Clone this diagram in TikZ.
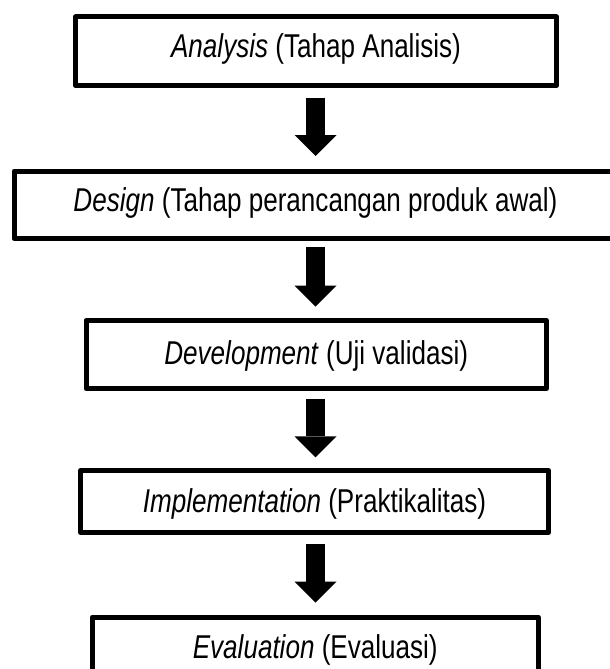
\documentclass[tikz,border=0pt]{standalone}
\usepackage{fontspec}
\newfontfamily\boxfont{Liberation Sans}[FakeStretch=0.79]
\usetikzlibrary{arrows.meta}
\begin{document}
\begin{tikzpicture}[x=1pt,y=-1pt,
  stage/.style={draw=black, line width=5pt, line join=round, rectangle, inner sep=0pt,
    font=\boxfont\fontsize{33}{40}\selectfont, text height=24pt},
  flow/.style={draw=black, line width=19pt, -{Triangle[width=42pt,length=21pt,line width=0pt]}}]
\useasboundingbox (0,0) rectangle (610,669);
\clip (0,0) rectangle (610,669);
\fill[white] (0,0) rectangle (610,669);
\node[stage, minimum width=481pt, minimum height=68.5pt, text depth=12.5pt] (a) at (316,51.25) {\textit{Analysis} (Tahap Analisis)};
\node[stage, minimum width=603pt, minimum height=67.5pt, text depth=11.5pt] (b) at (315.5,204.75) {\textit{Design} (Tahap perancangan produk awal)};
\node[stage, minimum width=460.5pt, minimum height=68pt, text depth=5pt] (c) at (316.25,354.5) {\textit{Development} (Uji validasi)};
\node[stage, minimum width=468pt, minimum height=62pt, text depth=3pt] (d) at (314.5,501.5) {\textit{Implementation} (Praktikalitas)};
\node[stage, minimum width=445.5pt, minimum height=64pt, text depth=6pt] (e) at (315.25,649) {\textit{Evaluation} (Evaluasi)};
\coordinate (ax) at (315.5,0);
\draw[flow, shorten <=9.7pt, shorten >=12.5pt] (a.south -| ax) -- (b.north -| ax);
\draw[flow, shorten <=6.3pt, shorten >=11.3pt] (b.south -| ax) -- (c.north -| ax);
\draw[flow, shorten <=7.5pt, shorten >=10.7pt] (c.south -| ax) -- (d.north -| ax);
\draw[flow, shorten <=9pt, shorten >=11.8pt] (d.south -| ax) -- (e.north -| ax);
\end{tikzpicture}
\end{document}
